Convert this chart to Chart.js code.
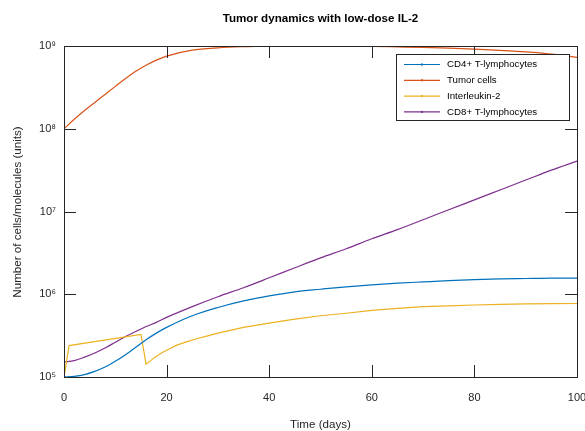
<!DOCTYPE html>
<html>
<head>
<meta charset="utf-8">
<script src="https://cdn.jsdelivr.net/npm/chart.js@4.4.1/dist/chart.umd.min.js"></script>
<style>
  html, body { margin: 0; padding: 0; background: #fff; }
  #wrap { width: 585px; height: 431px; position: relative; }
</style>
</head>
<body>
<div id="wrap"><canvas id="chart"></canvas></div>
<script>
// values
const dayGrid = [0, 2, 4, 6, 8, 10, 12, 14, 16, 18, 20, 25, 30, 35, 40, 45, 50, 55, 60, 65, 70, 75, 80, 85, 90, 95, 100];
const cd4Cells = [1.00e5, 1.02e5, 1.07e5, 1.17e5, 1.32e5, 1.55e5, 1.86e5, 2.29e5, 2.82e5, 3.39e5, 3.98e5,
  5.50e5, 6.92e5, 8.32e5, 9.55e5, 1.07e6, 1.15e6, 1.23e6, 1.30e6, 1.36e6, 1.41e6, 1.46e6, 1.50e6, 1.53e6, 1.55e6, 1.57e6, 1.57e6];
const tumorCells = [1.00e8, 1.30e8, 1.66e8, 2.08e8, 2.60e8, 3.25e8, 4.05e8, 4.95e8, 5.85e8, 6.75e8, 7.55e8,
  8.90e8, 9.50e8, 9.80e8, 9.95e8, 1.00e9, 1.00e9, 0.995e9, 0.99e9, 0.975e9, 0.96e9, 0.94e9, 0.915e9, 0.885e9, 0.85e9, 0.80e9, 0.73e9];
const cd8Cells = [1.51e5, 1.58e5, 1.74e5, 1.95e5, 2.24e5, 2.63e5, 3.09e5, 3.55e5, 4.07e5, 4.57e5, 5.25e5,
  7.08e5, 9.33e5, 1.20e6, 1.58e6, 2.09e6, 2.75e6, 3.55e6, 4.68e6, 6.03e6, 7.94e6, 1.05e7, 1.38e7, 1.82e7, 2.40e7, 3.16e7, 4.07e7];
const il2Days = [0, 1, 15, 16, 17, 18, 19, 20, 22, 24, 26, 28, 30, 35, 40, 45, 50, 55, 60, 65, 70, 75, 80, 85, 90, 95, 100];
const il2Level = [1.00e5, 2.40e5, 3.27e5, 1.43e5, 1.60e5, 1.78e5, 1.95e5, 2.11e5, 2.43e5, 2.68e5, 2.92e5, 3.14e5, 3.39e5,
  3.98e5, 4.47e5, 5.01e5, 5.50e5, 5.89e5, 6.38e5, 6.76e5, 7.08e5, 7.24e5, 7.41e5, 7.53e5, 7.64e5, 7.69e5, 7.73e5];
const xTicks = [0, 20, 40, 60, 80, 100];
const yTicks = [1e5, 1e6, 1e7, 1e8, 1e9];
const seriesNames = ["CD4+ T-lymphocytes", "Tumor cells", "Interleukin-2", "CD8+ T-lymphocytes"];

const sup = { "5": "\u2075", "6": "\u2076", "7": "\u2077", "8": "\u2078", "9": "\u2079" };
const FONT = "'Liberation Sans', Arial, Helvetica, sans-serif";
const AXC = "#262626";

const pairs = (xs, ys) => xs.map((x, i) => ({ x: x, y: ys[i] }));

function line(label, data, color, smooth) {
  const ds = {
    label: label,
    data: data,
    borderColor: color,
    backgroundColor: color,
    borderWidth: 1.2,
    pointRadius: 0,
    fill: false,
    tension: 0
  };
  if (smooth) ds.cubicInterpolationMode = "monotone";
  return ds;
}

// box, inner ticks, title, axis titles and legend, MATLAB style
const matlabFrame = {
  id: "matlabFrame",
  afterDraw(chart) {
    const ctx = chart.ctx;
    const a = chart.chartArea;
    const xs = chart.scales.x, ys = chart.scales.y;
    ctx.save();
    ctx.strokeStyle = AXC;
    ctx.lineWidth = 1;
    ctx.strokeRect(Math.round(a.left) + 0.5, Math.round(a.top) + 0.5,
      Math.round(a.right - a.left), Math.round(a.bottom - a.top));
    const tl = 12;
    ctx.beginPath();
    xTicks.forEach(v => {
      const px = Math.round(xs.getPixelForValue(v)) + 0.5;
      ctx.moveTo(px, a.bottom); ctx.lineTo(px, a.bottom - tl);
      ctx.moveTo(px, a.top); ctx.lineTo(px, a.top + tl);
    });
    yTicks.forEach(v => {
      const py = Math.round(ys.getPixelForValue(v)) + 0.5;
      ctx.moveTo(a.left, py); ctx.lineTo(a.left + tl, py);
      ctx.moveTo(a.right, py); ctx.lineTo(a.right - tl, py);
    });
    ctx.stroke();

    // title + axis titles
    ctx.fillStyle = "#000";
    ctx.textAlign = "center";
    ctx.textBaseline = "middle";
    ctx.font = "bold 11.6px " + FONT;
    ctx.fillText("Tumor dynamics with low-dose IL-2", (a.left + a.right) / 2, 19);
    ctx.fillStyle = AXC;
    ctx.font = "11.6px " + FONT;
    ctx.fillText("Time (days)", (a.left + a.right) / 2, 425);
    ctx.save();
    ctx.translate(18, 212);
    ctx.rotate(-Math.PI / 2);
    ctx.fillText("Number of cells/molecules (units)", 0, 0);
    ctx.restore();

    // legend box
    const lx = 396, ly = 54, lw = 173, lh = 66;
    ctx.fillStyle = "#fff";
    ctx.fillRect(lx, ly, lw, lh);
    ctx.strokeStyle = AXC;
    ctx.strokeRect(lx + 0.5, ly + 0.5, lw, lh);
    ctx.font = "9.7px " + FONT;
    ctx.textAlign = "left";
    chart.data.datasets.forEach((ds, i) => {
      const yy = ly + 10.5 + i * 15.8;
      ctx.strokeStyle = ds.borderColor;
      ctx.lineWidth = 1.2;
      ctx.beginPath();
      ctx.moveTo(404, yy); ctx.lineTo(440, yy);
      ctx.stroke();
      ctx.fillStyle = ds.borderColor;
      ctx.fillRect(421, yy - 1, 2, 2);
      ctx.fillStyle = "#000";
      ctx.fillText(ds.label, 447, yy);
    });
    ctx.restore();
  }
};

new Chart(document.getElementById("chart"), {
  type: "line",
  data: {
    datasets: [
      line(seriesNames[0], pairs(dayGrid, cd4Cells), "#0072BD", true),
      line(seriesNames[1], pairs(dayGrid, tumorCells), "#D95319", true),
      line(seriesNames[2], pairs(il2Days, il2Level), "#EDB120", false),
      line(seriesNames[3], pairs(dayGrid, cd8Cells), "#7E2F8E", true)
    ]
  },
  options: {
    responsive: true,
    maintainAspectRatio: false,
    animation: false,
    layout: { padding: { top: 46, right: 8, left: 0, bottom: 0 } },
    plugins: {
      legend: { display: false },
      title: { display: false },
      tooltip: { enabled: false }
    },
    scales: {
      x: {
        type: "linear",
        min: 0,
        max: 100,
        afterBuildTicks: s => { s.ticks = xTicks.map(v => ({ value: v })); },
        afterFit: s => { s.height = 54; s.paddingLeft = 0; s.paddingRight = 0; },
        grid: { display: true, drawOnChartArea: false, drawTicks: false },
        border: { display: false },
        ticks: {
          padding: 14,
          color: AXC,
          font: { family: FONT, size: 11 },
          maxRotation: 0
        }
      },
      y: {
        type: "logarithmic",
        min: 1e5,
        max: 1e9,
        afterBuildTicks: s => { s.ticks = yTicks.map(v => ({ value: v })); },
        afterFit: s => { s.width = 64; s.paddingTop = 0; s.paddingBottom = 0; },
        grid: { display: true, drawOnChartArea: false, drawTicks: false },
        border: { display: false },
        ticks: {
          padding: 8,
          color: AXC,
          font: { family: FONT, size: 11 },
          callback: v => "10" + sup[String(Math.round(Math.log10(v)))]
        }
      }
    }
  },
  plugins: [matlabFrame]
});
</script>
</body>
</html>
